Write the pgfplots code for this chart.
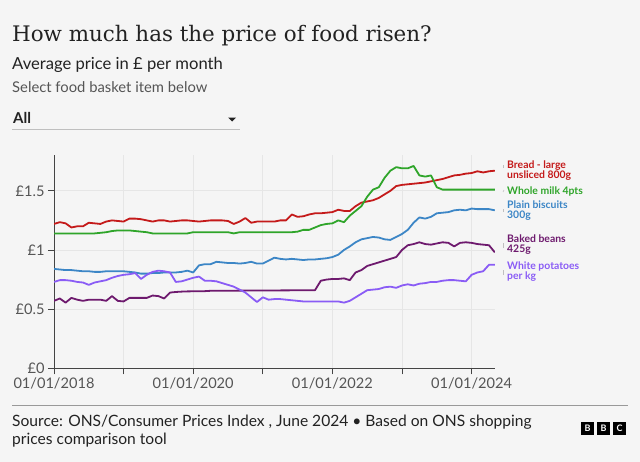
\documentclass[border=0pt]{standalone}
\usepackage{pgfplots}
\pgfplotsset{compat=1.18}
\usepackage{fontspec}
\setmainfont{Lato}
\newfontfamily\titlefont{DejaVu Serif}
\definecolor{bg}{HTML}{F5F5F5}
\definecolor{cred}{HTML}{C41A1A}
\definecolor{cgreen}{HTML}{2FA52A}
\definecolor{cblue}{HTML}{3C86C6}
\definecolor{cpurple}{HTML}{6E1A6E}
\definecolor{clav}{HTML}{8A5CF5}
\definecolor{axisgray}{HTML}{444444}
\definecolor{gridgray}{HTML}{E6E6E6}
\definecolor{tickgray}{HTML}{555555}
\definecolor{txt}{HTML}{222222}
\begin{document}
\begin{tikzpicture}
\fill[bg] (0,0) rectangle (640bp,-462bp);
\useasboundingbox (0,0) rectangle (640bp,-462bp);
% header
\node[anchor=base west, inner sep=0, text=txt] at (12bp,-41bp) {\titlefont\fontsize{21.4bp}{25bp}\selectfont How much has the price of food risen?};
\node[anchor=base west, inner sep=0, text=txt] at (12bp,-69.3bp) {\fontsize{16.6bp}{20bp}\selectfont Average price in £ per month};
\node[anchor=base west, inner sep=0, text=tickgray] at (12bp,-92.7bp) {\fontsize{14.8bp}{17bp}\selectfont Select food basket item below};
\node[anchor=base west, inner sep=0, text=txt] at (13bp,-123.3bp) {\fontsize{15bp}{18bp}\selectfont\bfseries All};
\draw[line width=0.8bp, color=black!25] (12bp,-129bp) -- (240bp,-129bp);
\fill[txt] (228bp,-117.5bp) -- (236bp,-117.5bp) -- (232bp,-121.5bp) -- cycle;
% axis
\begin{axis}[
  at={(54bp,-368.3bp)}, anchor=south west,
  scale only axis, width=440.8bp, height=213bp,
  xmin=0, xmax=76, ymin=0, ymax=1.8,
  axis lines=left,
  axis line style={-, color=axisgray, line width=1bp},
  xtick={0,12,...,72},
  xticklabels={01/01/2018,,01/01/2020,,01/01/2022,,01/01/2024},
  ytick={0,0.5,1,1.5},
  yticklabels={£0,£0.5,£1,£1.5},
  tick align=outside, major tick length=6bp,
  tick style={axisgray, line width=0.8bp},
  grid=major, major grid style={gridgray, line width=0.8bp},
  ticklabel style={font=\fontsize{14.6bp}{16bp}\selectfont, text=tickgray},
  every axis plot/.append style={line width=1.8bp, line join=round, no markers},
]
\addplot[cred] table {
0 1.22
1 1.235
2 1.225
3 1.19
4 1.20
5 1.20
6 1.23
7 1.225
8 1.22
9 1.24
10 1.25
11 1.245
12 1.24
13 1.265
14 1.265
15 1.26
16 1.25
17 1.24
18 1.25
19 1.25
20 1.24
21 1.245
22 1.25
23 1.25
24 1.245
25 1.24
26 1.245
27 1.25
28 1.25
29 1.25
30 1.245
31 1.22
32 1.24
33 1.27
34 1.23
35 1.24
36 1.24
37 1.24
38 1.24
39 1.25
40 1.25
41 1.30
42 1.28
43 1.285
44 1.30
45 1.31
46 1.31
47 1.315
48 1.32
49 1.34
50 1.33
51 1.33
52 1.37
53 1.40
54 1.41
55 1.42
56 1.44
57 1.47
58 1.50
59 1.54
60 1.55
61 1.555
62 1.56
63 1.565
64 1.57
65 1.58
66 1.59
67 1.60
68 1.615
69 1.63
70 1.635
71 1.645
72 1.65
73 1.665
74 1.655
75 1.665
76 1.67
};
\addplot[cgreen] table {
0 1.14
7 1.14
8 1.145
9 1.15
10 1.16
11 1.165
12 1.165
13 1.165
14 1.16
15 1.155
16 1.15
17 1.14
23 1.14
24 1.15
30 1.15
31 1.14
32 1.15
41 1.15
42 1.155
43 1.17
44 1.17
45 1.19
46 1.21
47 1.22
48 1.225
49 1.25
50 1.235
51 1.29
52 1.33
53 1.37
54 1.45
55 1.51
56 1.53
57 1.61
58 1.67
59 1.70
60 1.69
61 1.69
62 1.71
63 1.63
64 1.62
65 1.63
66 1.53
67 1.51
76 1.51
};
\addplot[cblue] table {
0 0.84
1 0.835
2 0.83
3 0.83
4 0.825
5 0.82
6 0.82
7 0.815
8 0.815
9 0.82
10 0.82
11 0.82
12 0.82
13 0.815
14 0.81
15 0.80
16 0.80
17 0.805
18 0.805
19 0.81
20 0.81
21 0.81
22 0.815
23 0.825
24 0.81
25 0.87
26 0.88
27 0.88
28 0.90
29 0.895
30 0.89
31 0.89
32 0.885
33 0.89
34 0.90
35 0.885
36 0.885
37 0.91
38 0.935
39 0.925
40 0.92
41 0.925
42 0.92
43 0.915
44 0.92
45 0.92
46 0.925
47 0.93
48 0.94
49 0.96
50 1.00
51 1.03
52 1.065
53 1.09
54 1.10
55 1.11
56 1.105
57 1.09
58 1.085
59 1.11
60 1.135
61 1.17
62 1.23
63 1.275
64 1.265
65 1.28
66 1.31
67 1.315
68 1.32
69 1.335
70 1.34
71 1.335
72 1.35
73 1.345
74 1.345
75 1.345
76 1.335
};
\addplot[cpurple] table {
0 0.57
1 0.59
2 0.555
3 0.595
4 0.58
5 0.57
6 0.58
7 0.58
8 0.58
9 0.57
10 0.61
11 0.57
12 0.565
13 0.595
14 0.595
15 0.595
16 0.595
17 0.615
18 0.61
19 0.59
20 0.64
21 0.645
22 0.648
23 0.65
26 0.652
27 0.655
45 0.66
46 0.74
47 0.75
48 0.755
49 0.755
50 0.76
51 0.745
52 0.81
53 0.83
54 0.865
55 0.88
56 0.895
57 0.91
58 0.925
59 0.94
60 1.00
61 1.04
62 1.05
63 1.065
64 1.05
65 1.045
66 1.055
67 1.065
68 1.06
69 1.03
70 1.06
71 1.065
72 1.06
73 1.05
74 1.045
75 1.04
76 0.98
};
\addplot[clav] table {
0 0.73
1 0.745
2 0.745
3 0.74
4 0.73
5 0.725
6 0.705
7 0.725
8 0.735
9 0.745
10 0.765
11 0.78
12 0.79
13 0.795
14 0.805
15 0.755
16 0.79
17 0.815
18 0.825
19 0.82
20 0.81
21 0.73
22 0.735
23 0.75
24 0.765
25 0.775
26 0.74
27 0.74
28 0.735
29 0.72
30 0.705
31 0.69
32 0.665
33 0.64
34 0.60
35 0.56
36 0.60
37 0.58
38 0.585
39 0.585
40 0.58
41 0.575
42 0.57
43 0.565
49 0.565
50 0.555
51 0.57
52 0.60
53 0.63
54 0.66
55 0.665
56 0.67
57 0.685
58 0.69
59 0.68
60 0.70
61 0.71
62 0.70
63 0.715
64 0.72
65 0.73
66 0.73
67 0.74
68 0.745
69 0.745
70 0.74
71 0.735
72 0.79
73 0.81
74 0.82
75 0.875
76 0.875
};
\end{axis}
% end labels
\begin{scope}[every node/.style={anchor=base west, inner sep=0, font=\fontsize{10.4bp}{11bp}\selectfont\bfseries}]
\node[text=cred] at (507bp,-168.5bp) {Bread - large};
\node[text=cred] at (507bp,-178.3bp) {unsliced 800g};
\node[text=cgreen] at (507bp,-194.3bp) {Whole milk 4pts};
\node[text=cblue] at (507bp,-208.8bp) {Plain biscuits};
\node[text=cblue] at (507bp,-218.6bp) {300g};
\node[text=cpurple] at (507bp,-242.5bp) {Baked beans};
\node[text=cpurple] at (507bp,-252.3bp) {425g};
\node[text=clav] at (507bp,-269.5bp) {White potatoes};
\node[text=clav] at (507bp,-279.3bp) {per kg};
\end{scope}
\begin{scope}[black!25, line width=0.6bp]
\draw (503bp,-168bp) -- (503bp,-165bp) -- (504bp,-165bp);
\draw (503bp,-192bp) -- (504bp,-190bp);
\draw (503bp,-212bp) -- (503bp,-209bp) -- (504bp,-209bp);
\draw (503bp,-248bp) -- (503bp,-243bp) -- (504bp,-243bp);
\draw (503bp,-275bp) -- (503bp,-270bp) -- (504bp,-270bp);
\end{scope}
% footer
\draw[line width=0.8bp, color=black!40] (12bp,-405bp) -- (628bp,-405bp);
\node[anchor=base west, inner sep=0, text=txt] at (12bp,-426.7bp) {\fontsize{15.6bp}{17bp}\selectfont Source: ONS/Consumer Prices Index , June 2024 • Based on ONS shopping};
\node[anchor=base west, inner sep=0, text=txt] at (12bp,-444.3bp) {\fontsize{15.6bp}{17bp}\selectfont prices comparison tool};
\foreach \xx/\ll in {581/B,597/B,613/C}{
  \fill[black] (\xx bp,-422bp) rectangle ++(13bp,-13bp);
  \node[text=white, inner sep=0, font=\fontsize{9bp}{9bp}\selectfont\bfseries] at (\xx bp+6.5bp,-428.5bp) {\ll};
}
\end{tikzpicture}
\end{document}
